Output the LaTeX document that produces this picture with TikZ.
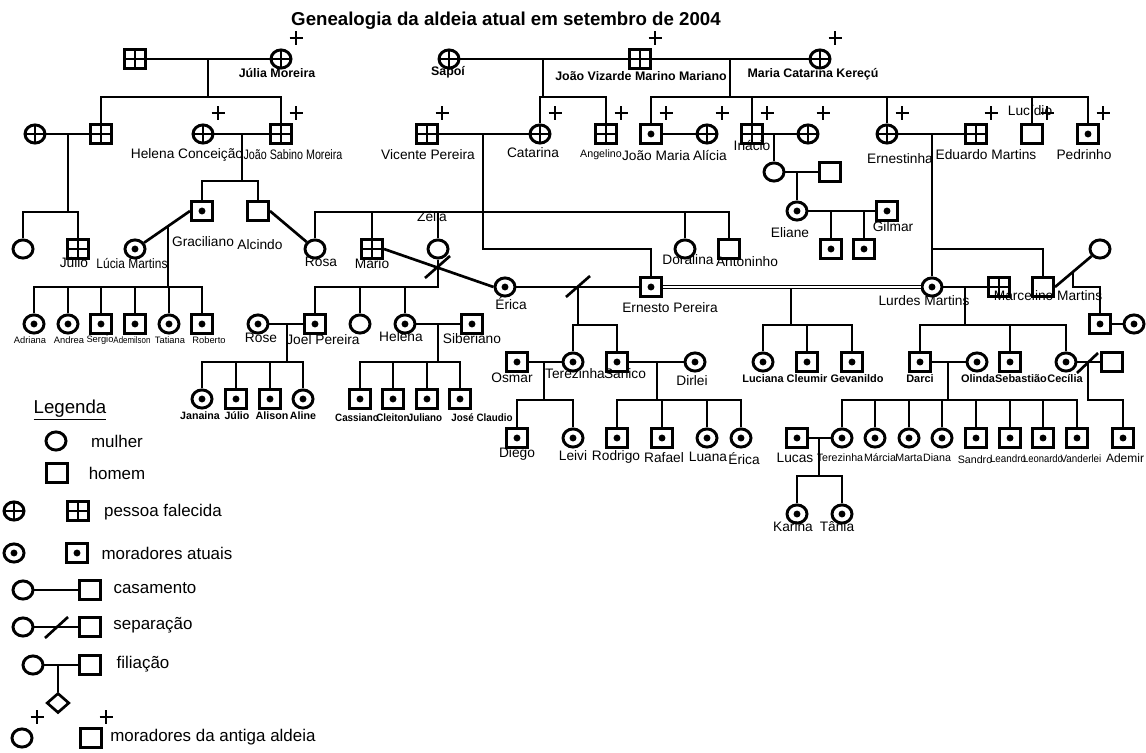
\documentclass[tikz,border=0pt]{standalone}
\usepackage{fontspec}
\setmainfont{Liberation Sans}
\usetikzlibrary{shapes.geometric,calc}
\tikzset{
 sym/.style={draw, line width=2.2pt, inner sep=0pt, fill=white},
 fem/.style={sym, ellipse, minimum width=15pt, minimum height=13.6pt},
 mal/.style={sym, rectangle, minimum width=15.8pt, minimum height=14.2pt},
 dead/.style={path picture={\draw[black, line width=2pt] (path picture bounding box.north) -- (path picture bounding box.south) (path picture bounding box.west) -- (path picture bounding box.east);}},
 alive/.style={path picture={\fill[black] (path picture bounding box.center) circle (2.6pt);}},
 ln/.style={line width=2pt},
 nm/.style={inner sep=0pt, font=\fontsize{10.3}{12}\selectfont},
 sm/.style={inner sep=0pt, font=\fontsize{8}{10}\selectfont},
 xs/.style={inner sep=0pt, font=\fontsize{7}{8}\selectfont},
 bd/.style={inner sep=0pt, font=\bfseries\fontsize{9.3}{11}\selectfont},
 bs/.style={inner sep=0pt, font=\bfseries\fontsize{8.2}{10}\selectfont},
 bt/.style={inner sep=0pt, font=\bfseries\fontsize{8}{10}\selectfont},
 lg/.style={inner sep=0pt, font=\fontsize{12.7}{15}\selectfont},
 deadplus/.pic={\draw[line width=1.5pt] (-6.5,0) -- (6.5,0) (0,-7) -- (0,7);}
}
\newcommand\mkplus[1]{\pic at ([shift={(15,-21)}]#1.center) {deadplus};}
\begin{document}
\begin{tikzpicture}[x=0.75pt,y=-0.75pt]
\useasboundingbox (0,0) rectangle (1146,753);
\node[inner sep=0pt, font=\bfseries\fontsize{14}{16}\selectfont] (title) at (506,21) {Genealogia da aldeia atual em setembro de 2004};

% ---------- generation 0
\node[mal,dead] (g0a) at (135,59) {};
\node[fem,dead] (julia) at (281,59) {}; \mkplus{julia}
\node[fem,dead] (sapoi) at (449,59) {};
\node[mal,dead] (jvmm) at (640,59) {}; \mkplus{jvmm}
\node[fem,dead] (mck) at (820,59) {}; \mkplus{mck}

% ---------- generation 1
\node[fem,dead] (g1a) at (35,134) {};
\node[mal,dead] (g1b) at (101,134) {};
\node[fem,dead] (helc) at (203,134) {}; \mkplus{helc}
\node[mal,dead] (jsm) at (281,134) {}; \mkplus{jsm}
\node[mal,dead] (vicente) at (427,134) {}; \mkplus{vicente}
\node[fem,dead] (catarina) at (540,134) {}; \mkplus{catarina}
\node[mal,dead] (angelino) at (606,134) {}; \mkplus{angelino}
\node[mal,alive] (joaomaria) at (651,134) {}; \mkplus{joaomaria}
\node[fem,dead] (alicia) at (707,134) {}; \mkplus{alicia}
\node[mal,dead] (inacio) at (752,134) {}; \mkplus{inacio}
\node[fem,dead] (inwife) at (808,134) {}; \mkplus{inwife}
\node[fem,dead] (ernestinha) at (887,134) {}; \mkplus{ernestinha}
\node[mal,dead] (eduardo) at (976,134) {}; \mkplus{eduardo}
\node[mal] (lucidio) at (1032,134) {}; \mkplus{lucidio}
\node[mal,alive] (pedrinho) at (1088,134) {}; \mkplus{pedrinho}

% ---------- generation 2
\node[fem] (g2a) at (23,249) {};
\node[mal,dead] (julio) at (78,249) {};
\node[mal,alive] (graciliano) at (202,211) {};
\node[mal] (alcindo) at (258,211) {};
\node[fem,alive] (lucia) at (135,249) {};
\node[fem] (rosa) at (315,249) {};
\node[mal,dead] (mario) at (372,249) {};
\node[fem] (zelia) at (438,249) {};
\node[fem] (doralina) at (685,249) {};
\node[mal] (antoninho) at (729,249) {};
\node[fem] (inkid) at (774,172) {};
\node[mal] (inspouse) at (830,172) {};
\node[fem,alive] (eliane) at (797,211) {};
\node[mal,alive] (gilmar) at (887,211) {};
\node[mal,alive] (ek1) at (831,249) {};
\node[mal,alive] (ek2) at (864,249) {};
\node[fem,alive] (erica) at (505,287) {};
\node[mal,alive] (ernesto) at (651,287) {};
\node[fem,alive] (lurdes) at (932,287) {};
\node[mal,dead] (ldead) at (999,287) {};
\node[mal] (marcelino) at (1043,287) {};
\node[fem] (mwife) at (1100,249) {};

% ---------- generation 3
\node[fem,alive] (adriana) at (34,324) {};
\node[fem,alive] (andrea) at (68,324) {};
\node[mal,alive] (sergio) at (101,324) {};
\node[mal,alive] (ademilson) at (135,324) {};
\node[fem,alive] (tatiana) at (169,324) {};
\node[mal,alive] (roberto) at (202,324) {};
\node[fem,alive] (rose) at (258,324) {};
\node[mal,alive] (joel) at (315,324) {};
\node[fem] (jcirc) at (360,324) {};
\node[fem,alive] (helena) at (405,324) {};
\node[mal,alive] (siberiano) at (472,324) {};
\node[mal,alive] (msq) at (1100,324) {};
\node[fem,alive] (mcirc) at (1134,324) {};

\node[mal,alive] (osmar) at (517,362) {};
\node[fem,alive] (terezinha) at (573,362) {};
\node[mal,alive] (sanico) at (617,362) {};
\node[fem,alive] (dirlei) at (695,362) {};
\node[fem,alive] (luciana) at (763,362) {};
\node[mal,alive] (cleumir) at (807,362) {};
\node[mal,alive] (gevanildo) at (852,362) {};
\node[mal,alive] (darci) at (920,362) {};
\node[fem,alive] (olinda) at (977,362) {};
\node[mal,alive] (sebastiao) at (1010,362) {};
\node[fem,alive] (cecilia) at (1066,362) {};
\node[mal] (cspouse) at (1112,362) {};

\node[fem,alive] (janaina) at (202,399) {};
\node[mal,alive] (julio2) at (236,399) {};
\node[mal,alive] (alison) at (270,399) {};
\node[fem,alive] (aline) at (303,399) {};
\node[mal,alive] (cassiano) at (360,399) {};
\node[mal,alive] (cleiton) at (393,399) {};
\node[mal,alive] (juliano) at (427,399) {};
\node[mal,alive] (joseclaudio) at (460,399) {};

\node[mal,alive] (diego) at (517,438) {};
\node[fem,alive] (leivi) at (573,438) {};
\node[mal,alive] (rodrigo) at (617,438) {};
\node[mal,alive] (rafael) at (662,438) {};
\node[fem,alive] (luana) at (707,438) {};
\node[fem,alive] (erica2) at (741,438) {};
\node[mal,alive] (lucas) at (797,438) {};
\node[fem,alive] (terezinha2) at (842,438) {};
\node[fem,alive] (marcia) at (875,438) {};
\node[fem,alive] (marta) at (909,438) {};
\node[fem,alive] (diana) at (942,438) {};
\node[mal,alive] (sandro) at (976,438) {};
\node[mal,alive] (leandro) at (1010,438) {};
\node[mal,alive] (leonardo) at (1043,438) {};
\node[mal,alive] (vanderlei) at (1077,438) {};
\node[mal,alive] (ademir) at (1123,438) {};

\node[fem,alive] (karina) at (797,514) {};
\node[fem,alive] (tania) at (842,514) {};

% ---------- connectors
\draw[ln] (g0a) -- (julia);
\draw[ln] (sapoi) -- (jvmm);
\draw[ln] (jvmm) -- (mck);
\coordinate (d0) at (208,59); \coordinate (b0) at (208,97);
\draw[ln] (d0) -- (b0);
\draw[ln] (g1b.north) -- (g1b.north |- b0) -- (jsm.north |- b0) -- (jsm.north);
\coordinate (d1) at (543,59); \coordinate (b1) at (543,97);
\draw[ln] (d1) -- (b1);
\draw[ln] (catarina.north) -- (catarina.north |- b1) -- (angelino.north |- b1) -- (angelino.north);
\coordinate (d2) at (730,59); \coordinate (b2) at (730,97);
\draw[ln] (d2) -- (b2);
\draw[ln] (joaomaria.north) -- (joaomaria.north |- b2) -- (pedrinho.north |- b2) -- (pedrinho.north);
\draw[ln] (inacio.north) -- (inacio.north |- b2);
\draw[ln] (ernestinha.north) -- (ernestinha.north |- b2);
\draw[ln] (lucidio.north) -- (lucidio.north |- b2);

\draw[ln] (g1a) -- (g1b);
\coordinate (d3) at (68,134); \coordinate (b3) at (68,212);
\draw[ln] (d3) -- (b3);
\draw[ln] (g2a.north) -- (g2a.north |- b3) -- (julio.north |- b3) -- (julio.north);
\draw[ln] (helc) -- (jsm);
\coordinate (d4) at (242,134); \coordinate (b4) at (242,181);
\draw[ln] (d4) -- (b4);
\draw[ln] (graciliano.north) -- (graciliano.north |- b4) -- (alcindo.north |- b4) -- (alcindo.north);
\draw[ln] (vicente) -- (catarina);
\coordinate (d5) at (483,134); \coordinate (b5) at (483,249);
\draw[ln] (d5) -- (b5) -- (ernesto.north |- b5) -- (ernesto.north);
\coordinate (b6) at (483,212);
\draw[ln] (rosa.north) -- (rosa.north |- b6) -- (antoninho.north |- b6) -- (antoninho.north);
\draw[ln] (mario.north) -- (mario.north |- b6);
\draw[ln] (zelia.north) -- (zelia.north |- b6);
\draw[ln] (doralina.north) -- (doralina.north |- b6);
\draw[ln] (joaomaria) -- (alicia);
\draw[ln] (inacio) -- (inwife);
\coordinate (d7) at (774,134);
\draw[ln] (d7) -- (inkid.north);
\draw[ln] (inkid) -- (inspouse);
\coordinate (d8) at (797,172);
\draw[ln] (d8) -- (eliane.north);
\draw[ln] (eliane) -- (gilmar);
\coordinate (d9) at (831,211); \coordinate (d10) at (864,211);
\draw[ln] (d9) -- (ek1.north);
\draw[ln] (d10) -- (ek2.north);
\draw[ln] (ernestinha) -- (eduardo);
\coordinate (d11) at (932,134);
\draw[ln] (d11) -- (lurdes.north);
\coordinate (b11) at (932,249);
\draw[ln] (b11) -- (marcelino.north |- b11) -- (marcelino.north);

% Graciliano - Lucia
\draw[ln] (lucia) -- (graciliano.west);
\coordinate (d12) at ($(lucia)!0.6!(graciliano.west)$);
\coordinate (b12) at (169,287);
\draw[ln] (d12) -- (d12 |- b12);
\draw[ln] (adriana.north) -- (adriana.north |- b12) -- (roberto.north |- b12) -- (roberto.north);
\foreach \k in {andrea,sergio,ademilson,tatiana} \draw[ln] (\k.north) -- (\k.north |- b12);
% Alcindo - Rosa
\draw[ln] (alcindo.east) -- (rosa);
% Mario - Erica
\draw[ln] (mario.east) -- (erica.west);
% Zelia's children
\coordinate (b13) at (438,287);
\draw[ln] (zelia.south) -- (b13) -- (joel.north |- b13) -- (joel.north);
\draw[ln] (jcirc.north) -- (jcirc.north |- b13);
\draw[ln] (helena.north) -- (helena.north |- b13);
\coordinate (s1) at (438,267);
\draw[ln] ([shift={(-13,11)}]s1) -- ([shift={(12,-11)}]s1);
% Erica - Ernesto
\draw[ln] (erica) -- (ernesto);
\coordinate (d14) at (578,287); \coordinate (b14) at (578,325);
\draw[ln] ([shift={(-12,10)}]d14) -- ([shift={(12,-11)}]d14);
\draw[ln] (d14) -- (b14);
\draw[ln] (terezinha.north) -- (terezinha.north |- b14) -- (sanico.north |- b14) -- (sanico.north);
% Ernesto - Lurdes
\draw[line width=0.9pt, double distance=1.8pt] (ernesto) -- (lurdes);
\coordinate (d15) at (791,289); \coordinate (b15) at (791,325);
\draw[ln] (d15) -- (b15);
\draw[ln] (luciana.north) -- (luciana.north |- b15) -- (gevanildo.north |- b15) -- (gevanildo.north);
\draw[ln] (cleumir.north) -- (cleumir.north |- b15);
% Lurdes - deceased man
\draw[ln] (lurdes) -- (ldead);
\coordinate (d16) at (965,287); \coordinate (b16) at (965,325);
\draw[ln] (d16) -- (b16);
\draw[ln] (darci.north) -- (darci.north |- b16) -- (cecilia.north |- b16) -- (cecilia.north);
\draw[ln] (sebastiao.north) -- (sebastiao.north |- b16);
% Darci - Olinda
\draw[ln] (darci) -- (olinda);
\coordinate (d17) at (948,362); \coordinate (b17) at (948,400);
\draw[ln] (d17) -- (b17);
\draw[ln] (terezinha2.north) -- (terezinha2.north |- b17) -- (vanderlei.north |- b17) -- (vanderlei.north);
\foreach \k in {marcia,marta,diana,sandro,leandro,leonardo} \draw[ln] (\k.north) -- (\k.north |- b17);
% Cecilia - spouse
\draw[ln] (cecilia) -- (cspouse);
\coordinate (d18) at (1088,362); \coordinate (b18) at (1088,400);
\draw[ln] ([shift={(-11,11)}]d18) -- ([shift={(10,-9)}]d18);
\draw[ln] (d18) -- (b18) -- (ademir.north |- b18) -- (ademir.north);
% Marcelino - wife
\draw[ln] (marcelino.east) -- (mwife);
\coordinate (d19) at ($(marcelino.east)!0.4!(mwife)$);
\coordinate (b19) at (1072,287);
\draw[ln] (d19) -- (d19 |- b19) -- (msq.north |- b19) -- (msq.north);
\draw[ln] (msq) -- (mcirc);
% Rose - Joel
\draw[ln] (rose) -- (joel);
\coordinate (d20) at (287,324); \coordinate (b20) at (287,362);
\draw[ln] (d20) -- (b20);
\draw[ln] (janaina.north) -- (janaina.north |- b20) -- (aline.north |- b20) -- (aline.north);
\foreach \k in {julio2,alison} \draw[ln] (\k.north) -- (\k.north |- b20);
% Helena - Siberiano
\draw[ln] (helena) -- (siberiano);
\coordinate (d21) at (438,324); \coordinate (b21) at (438,362);
\draw[ln] (d21) -- (b21);
\draw[ln] (cassiano.north) -- (cassiano.north |- b21) -- (joseclaudio.north |- b21) -- (joseclaudio.north);
\foreach \k in {cleiton,juliano} \draw[ln] (\k.north) -- (\k.north |- b21);
% Osmar - Terezinha
\draw[ln] (osmar) -- (terezinha);
\coordinate (d22) at (544,362); \coordinate (b22) at (544,400);
\draw[ln] (d22) -- (b22);
\draw[ln] (diego.north) -- (diego.north |- b22) -- (leivi.north |- b22) -- (leivi.north);
% Sanico - Dirlei
\draw[ln] (sanico) -- (dirlei);
\coordinate (d23) at (657,362); \coordinate (b23) at (657,400);
\draw[ln] (d23) -- (b23);
\draw[ln] (rodrigo.north) -- (rodrigo.north |- b23) -- (erica2.north |- b23) -- (erica2.north);
\foreach \k in {rafael,luana} \draw[ln] (\k.north) -- (\k.north |- b23);
% Lucas - Terezinha
\draw[ln] (lucas) -- (terezinha2);
\coordinate (d24) at (819,438); \coordinate (b24) at (819,476);
\draw[ln] (d24) -- (b24);
\draw[ln] (karina.north) -- (karina.north |- b24) -- (tania.north |- b24) -- (tania.north);

% ---------- labels
\node[bd] (t1) at (277,73) {Júlia Moreira};
\node[bd] (t2) at (448,72) {Sapoí};
\node[bd] (t3) at (641,76) {João Vizarde Marino Mariano};
\node[bd] (t4) at (813,74) {Maria Catarina Kereçú};
\node[nm] (t5) at (187,155) {Helena Conceição};
\node[nm] (t6) at (293,155) {\scalebox{0.78}[1]{João Sabino Moreira}};
\node[nm] (t7) at (428,155) {Vicente Pereira};
\node[nm] (t8) at (533,153) {Catarina};
\node[sm] (t9) at (601,155) {Angelino};
\node[nm] (t10) at (656,156) {João Maria};
\node[nm] (t11) at (710,156) {Alícia};
\node[nm] (t12) at (752,146) {Inácio};
\node[nm] (t13) at (900,159) {Ernestinha};
\node[nm] (t14) at (986,155) {Eduardo Martins};
\node[nm] (t15) at (1030,111) {Lucídio};
\node[nm] (t16) at (1084,155) {Pedrinho};
\node[nm] (t17) at (74,263) {Júlio};
\node[nm] (t18) at (132,264) {\scalebox{0.87}[1]{Lúcia Martins}};
\node[nm] (t19) at (203,242) {Graciliano};
\node[nm] (t20) at (260,245) {Alcindo};
\node[nm] (t21) at (321,262) {Rosa};
\node[nm] (t22) at (372,264) {Mário};
\node[nm] (t23) at (432,217) {Zélia};
\node[nm] (t24) at (688,260) {Doralina};
\node[nm] (t25) at (747,262) {Antoninho};
\node[nm] (t26) at (790,233) {Eliane};
\node[nm] (t27) at (893,227) {Gilmar};
\node[nm] (t28) at (511,304) {Érica};
\node[nm] (t29) at (670,308) {Ernesto Pereira};
\node[nm] (t30) at (924,301) {Lurdes Martins};
\node[nm] (t31) at (1048,296) {Marcelino Martins};
\node[xs] (t32) at (30,340) {Adriana};
\node[xs] (t33) at (69,340) {Andrea};
\node[xs] (t34) at (100,340) {Sergio};
\node[xs] (t35) at (132,340) {\scalebox{0.85}[1]{Ademilson}};
\node[xs] (t36) at (170,340) {Tatiana};
\node[xs] (t37) at (209,340) {Roberto};
\node[nm] (t38) at (261,338) {Rose};
\node[nm] (t39) at (323,340) {Joel Pereira};
\node[nm] (t40) at (401,337) {Helena};
\node[nm] (t41) at (472,339) {Siberiano};
\node[nm] (t42) at (512,378) {Osmar};
\node[nm] (t43) at (575,374) {Terezinha};
\node[nm] (t44) at (625,374) {Sanico};
\node[nm] (t45) at (692,381) {Dirlei};
\node[bs] (t46) at (763,379) {Luciana};
\node[bs] (t47) at (807,379) {Cleumir};
\node[bs] (t48) at (857,379) {Gevanildo};
\node[bs] (t49) at (920,379) {Darci};
\node[bs] (t50) at (978,379) {Olinda};
\node[bs] (t51) at (1021,379) {Sebastião};
\node[bs] (t52) at (1065,379) {Cecília};
\node[bt] (t53) at (200,416) {Janaina};
\node[bt] (t54) at (237,416) {Júlio};
\node[bt] (t55) at (272,416) {Alison};
\node[bt] (t56) at (303,416) {Aline};
\node[bt] (t57) at (357,418) {\scalebox{0.92}[1]{Cassiano}};
\node[bt] (t58) at (393,418) {\scalebox{0.92}[1]{Cleiton}};
\node[bt] (t59) at (425,418) {\scalebox{0.92}[1]{Juliano}};
\node[bt] (t60) at (482,418) {\scalebox{0.92}[1]{José Claudio}};
\node[nm] (t61) at (517,454) {Diego};
\node[nm] (t62) at (573,456) {Leivi};
\node[nm] (t63) at (616,457) {Rodrigo};
\node[nm] (t64) at (664,458) {Rafael};
\node[nm] (t65) at (708,457) {Luana};
\node[nm] (t66) at (744,459) {Érica};
\node[nm] (t67) at (795,458) {Lucas};
\node[sm] (t68) at (840,458) {Terezinha};
\node[sm] (t69) at (880,458) {Márcia};
\node[sm] (t70) at (909,458) {Marta};
\node[sm] (t71) at (937,458) {Diana};
\node[sm] (t72) at (975,460) {Sandro};
\node[sm] (t73) at (1008,459) {\scalebox{0.92}[1]{Leandro}};
\node[sm] (t74) at (1043,459) {\scalebox{0.88}[1]{Leonardo}};
\node[sm] (t75) at (1081,459) {\scalebox{0.92}[1]{Vanderlei}};
\node[inner sep=0pt, font=\fontsize{9}{10}\selectfont] (t76) at (1125,458) {Ademir};
\node[nm] (t77) at (793,527) {Karina};
\node[nm] (t78) at (837,527) {Tânia};

% ---------- legend
\node[inner sep=0pt, font=\fontsize{14}{16}\selectfont] (legt) at (70,410) {\underline{Legenda}};
\node[fem] (lw) at (56,441) {};
\node[lg] (lwt) at (117,441) {mulher};
\node[mal] (lm) at (57,473) {};
\node[lg] (lmt) at (117,473) {homem};
\node[fem,dead] (ldf) at (14,511) {};
\node[mal,dead] (ldm) at (78,511) {};
\node[lg] (ldt) at (163,512) {pessoa falecida};
\node[fem,alive] (laf) at (14,553) {};
\node[mal,alive] (lam) at (77,553) {};
\node[lg] (lat) at (167,553) {moradores atuais};
\node[fem] (lcf) at (23,590) {};
\node[mal] (lcm) at (90,590) {};
\draw[ln] (lcf) -- (lcm);
\node[lg] (lct) at (155,588) {casamento};
\node[fem] (lsf) at (23,627) {};
\node[mal] (lsm) at (90,627) {};
\draw[ln] (lsf) -- (lsm);
\coordinate (ls1) at (57,627);
\draw[ln] ([shift={(-12,11)}]ls1) -- ([shift={(11,-10)}]ls1);
\node[lg] (lst) at (153,625) {separação};
\node[fem] (lff) at (33,665) {};
\node[mal] (lfm) at (90,665) {};
\draw[ln] (lff) -- (lfm);
\coordinate (lfd) at (58,665);
\node[diamond, draw, line width=2pt, inner sep=0pt, minimum width=17pt, minimum height=15pt] (ldia) at (58,703) {};
\draw[ln] (lfd) -- (ldia.north);
\node[lg] (lft) at (143,664) {filiação};
\node[fem] (lof) at (22,738) {}; \mkplus{lof}
\node[mal] (lom) at (91,738) {}; \mkplus{lom}
\node[lg, anchor=west] (lot) at (110,737) {moradores da antiga aldeia};
\end{tikzpicture}
\end{document}
